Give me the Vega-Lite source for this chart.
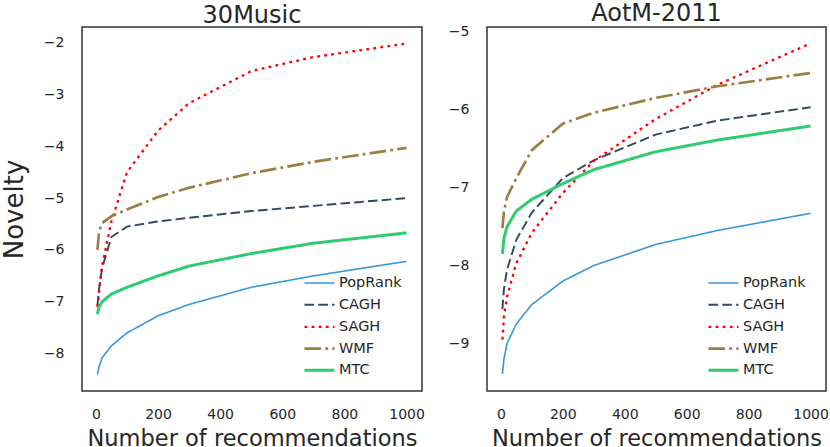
{
  "$schema": "https://vega.github.io/schema/vega-lite/v6.json",
  "description": "Novelty vs number of recommendations, 30Music and AotM-2011.",
  "background": "white",
  "padding": {"left": 0, "top": 0, "right": 0, "bottom": 0},
  "datasets": {
    "music": [
      {"method": "PopRank", "n": 5, "novelty": -8.40}, {"method": "PopRank", "n": 10, "novelty": -8.25},
      {"method": "PopRank", "n": 20, "novelty": -8.08}, {"method": "PopRank", "n": 50, "novelty": -7.85},
      {"method": "PopRank", "n": 100, "novelty": -7.60}, {"method": "PopRank", "n": 200, "novelty": -7.27},
      {"method": "PopRank", "n": 300, "novelty": -7.05}, {"method": "PopRank", "n": 500, "novelty": -6.72},
      {"method": "PopRank", "n": 700, "novelty": -6.50}, {"method": "PopRank", "n": 1000, "novelty": -6.22},
      {"method": "CAGH", "n": 5, "novelty": -7.07}, {"method": "CAGH", "n": 10, "novelty": -6.75},
      {"method": "CAGH", "n": 20, "novelty": -6.35}, {"method": "CAGH", "n": 50, "novelty": -5.75},
      {"method": "CAGH", "n": 100, "novelty": -5.55}, {"method": "CAGH", "n": 200, "novelty": -5.45},
      {"method": "CAGH", "n": 300, "novelty": -5.38}, {"method": "CAGH", "n": 500, "novelty": -5.25},
      {"method": "CAGH", "n": 700, "novelty": -5.15}, {"method": "CAGH", "n": 1000, "novelty": -5.00},
      {"method": "SAGH", "n": 5, "novelty": -7.10}, {"method": "SAGH", "n": 10, "novelty": -6.80},
      {"method": "SAGH", "n": 20, "novelty": -6.30}, {"method": "SAGH", "n": 50, "novelty": -5.45},
      {"method": "SAGH", "n": 100, "novelty": -4.50}, {"method": "SAGH", "n": 200, "novelty": -3.70},
      {"method": "SAGH", "n": 300, "novelty": -3.17}, {"method": "SAGH", "n": 500, "novelty": -2.55},
      {"method": "SAGH", "n": 700, "novelty": -2.28}, {"method": "SAGH", "n": 1000, "novelty": -2.02},
      {"method": "WMF", "n": 5, "novelty": -6.00}, {"method": "WMF", "n": 10, "novelty": -5.65},
      {"method": "WMF", "n": 20, "novelty": -5.48}, {"method": "WMF", "n": 50, "novelty": -5.35},
      {"method": "WMF", "n": 100, "novelty": -5.22}, {"method": "WMF", "n": 200, "novelty": -4.98},
      {"method": "WMF", "n": 300, "novelty": -4.80}, {"method": "WMF", "n": 500, "novelty": -4.52},
      {"method": "WMF", "n": 700, "novelty": -4.30}, {"method": "WMF", "n": 1000, "novelty": -4.03},
      {"method": "MTC", "n": 5, "novelty": -7.24}, {"method": "MTC", "n": 10, "novelty": -7.10},
      {"method": "MTC", "n": 20, "novelty": -7.00}, {"method": "MTC", "n": 50, "novelty": -6.85},
      {"method": "MTC", "n": 100, "novelty": -6.72}, {"method": "MTC", "n": 200, "novelty": -6.50},
      {"method": "MTC", "n": 300, "novelty": -6.31}, {"method": "MTC", "n": 500, "novelty": -6.07},
      {"method": "MTC", "n": 700, "novelty": -5.87}, {"method": "MTC", "n": 1000, "novelty": -5.67}
    ],
    "aotm": [
      {"method": "PopRank", "n": 5, "novelty": -9.39}, {"method": "PopRank", "n": 10, "novelty": -9.20},
      {"method": "PopRank", "n": 20, "novelty": -9.00}, {"method": "PopRank", "n": 50, "novelty": -8.75},
      {"method": "PopRank", "n": 100, "novelty": -8.50}, {"method": "PopRank", "n": 200, "novelty": -8.20},
      {"method": "PopRank", "n": 300, "novelty": -8.00}, {"method": "PopRank", "n": 500, "novelty": -7.73},
      {"method": "PopRank", "n": 700, "novelty": -7.55}, {"method": "PopRank", "n": 1000, "novelty": -7.33},
      {"method": "CAGH", "n": 5, "novelty": -8.56}, {"method": "CAGH", "n": 10, "novelty": -8.30},
      {"method": "CAGH", "n": 20, "novelty": -8.05}, {"method": "CAGH", "n": 50, "novelty": -7.67},
      {"method": "CAGH", "n": 100, "novelty": -7.32}, {"method": "CAGH", "n": 200, "novelty": -6.88},
      {"method": "CAGH", "n": 300, "novelty": -6.65}, {"method": "CAGH", "n": 500, "novelty": -6.32},
      {"method": "CAGH", "n": 700, "novelty": -6.14}, {"method": "CAGH", "n": 1000, "novelty": -5.97},
      {"method": "SAGH", "n": 5, "novelty": -8.95}, {"method": "SAGH", "n": 10, "novelty": -8.65},
      {"method": "SAGH", "n": 20, "novelty": -8.40}, {"method": "SAGH", "n": 50, "novelty": -7.97},
      {"method": "SAGH", "n": 100, "novelty": -7.58}, {"method": "SAGH", "n": 200, "novelty": -7.07},
      {"method": "SAGH", "n": 300, "novelty": -6.66}, {"method": "SAGH", "n": 500, "novelty": -6.12},
      {"method": "SAGH", "n": 700, "novelty": -5.68}, {"method": "SAGH", "n": 1000, "novelty": -5.15},
      {"method": "WMF", "n": 5, "novelty": -7.52}, {"method": "WMF", "n": 10, "novelty": -7.30},
      {"method": "WMF", "n": 20, "novelty": -7.12}, {"method": "WMF", "n": 50, "novelty": -6.88},
      {"method": "WMF", "n": 100, "novelty": -6.52}, {"method": "WMF", "n": 200, "novelty": -6.18},
      {"method": "WMF", "n": 300, "novelty": -6.04}, {"method": "WMF", "n": 500, "novelty": -5.85},
      {"method": "WMF", "n": 700, "novelty": -5.70}, {"method": "WMF", "n": 1000, "novelty": -5.53},
      {"method": "MTC", "n": 5, "novelty": -7.85}, {"method": "MTC", "n": 10, "novelty": -7.65},
      {"method": "MTC", "n": 20, "novelty": -7.50}, {"method": "MTC", "n": 50, "novelty": -7.30},
      {"method": "MTC", "n": 100, "novelty": -7.15}, {"method": "MTC", "n": 200, "novelty": -6.95},
      {"method": "MTC", "n": 300, "novelty": -6.77}, {"method": "MTC", "n": 500, "novelty": -6.54},
      {"method": "MTC", "n": 700, "novelty": -6.39}, {"method": "MTC", "n": 1000, "novelty": -6.21}
    ]
  },
  "hconcat": [
    {
      "title": "30Music",
      "data": {"name": "music"},
      "width": 340,
      "height": 364,
      "mark": {"type": "line", "strokeCap": "butt"},
      "encoding": {
        "x": {"field": "n", "type": "quantitative",
              "scale": {"domain": [-44.75, 1049.75], "nice": false, "zero": false},
              "axis": {"values": [0, 200, 400, 600, 800, 1000], "format": "d", "title": "Number of recommendations"}},
        "y": {"field": "novelty", "type": "quantitative",
              "scale": {"domain": [-8.72, -1.70], "nice": false, "zero": false},
              "axis": {"values": [-8, -7, -6, -5, -4, -3, -2], "format": "d", "title": "Novelty", "titleFontSize": 26, "titlePadding": 16}},
        "color": {"field": "method", "type": "nominal",
                  "scale": {"domain": ["PopRank", "CAGH", "SAGH", "WMF", "MTC"], "range": ["#3498db", "#34495e", "#ff0000", "#9b7e41", "#2ecc71"]},
                  "legend": {"title": null, "orient": "none", "legendX": 226, "legendY": 245, "symbolType": "M-1.5,0H1.5", "symbolSize": 400, "labelFontSize": 14.5, "labelFont": "DejaVu Sans", "labelColor": "#262626", "labelOffset": 8, "rowPadding": 3.7, "padding": 0}},
        "strokeDash": {"field": "method", "type": "nominal",
                  "scale": {"domain": ["PopRank", "CAGH", "SAGH", "WMF", "MTC"], "range": [[1, 0], [9.6, 4.2], [2.8, 4.3], [16.6, 4.2, 2.8, 4.2], [1, 0]]},
                  "legend": {"title": null, "orient": "none", "legendX": 226, "legendY": 245, "symbolType": "M-1.5,0H1.5", "symbolSize": 400, "labelFontSize": 14.5, "labelFont": "DejaVu Sans", "labelColor": "#262626", "labelOffset": 8, "rowPadding": 3.7, "padding": 0}},
        "strokeWidth": {"field": "method", "type": "ordinal",
                  "scale": {"domain": ["PopRank", "CAGH", "SAGH", "WMF", "MTC"], "range": [1.6, 3, 3, 3, 5]},
                  "legend": {"title": null, "orient": "none", "legendX": 226, "legendY": 245, "symbolType": "M-1.5,0H1.5", "symbolSize": 400, "labelFontSize": 14.5, "labelFont": "DejaVu Sans", "labelColor": "#262626", "labelOffset": 8, "rowPadding": 3.7, "padding": 0}}
      }
    },
    {
      "title": "AotM-2011",
      "data": {"name": "aotm"},
      "width": 339,
      "height": 364,
      "mark": {"type": "line", "strokeCap": "butt"},
      "encoding": {
        "x": {"field": "n", "type": "quantitative",
              "scale": {"domain": [-44.75, 1049.75], "nice": false, "zero": false},
              "axis": {"values": [0, 200, 400, 600, 800, 1000], "format": "d", "title": "Number of recommendations"}},
        "y": {"field": "novelty", "type": "quantitative",
              "scale": {"domain": [-9.61, -4.94], "nice": false, "zero": false},
              "axis": {"values": [-9, -8, -7, -6, -5], "format": "d", "title": null}},
        "color": {"field": "method", "type": "nominal",
                  "scale": {"domain": ["PopRank", "CAGH", "SAGH", "WMF", "MTC"], "range": ["#3498db", "#34495e", "#ff0000", "#9b7e41", "#2ecc71"]},
                  "legend": {"title": null, "orient": "none", "legendX": 225, "legendY": 245, "symbolType": "M-1.5,0H1.5", "symbolSize": 400, "labelFontSize": 14.5, "labelFont": "DejaVu Sans", "labelColor": "#262626", "labelOffset": 8, "rowPadding": 3.7, "padding": 0}},
        "strokeDash": {"field": "method", "type": "nominal",
                  "scale": {"domain": ["PopRank", "CAGH", "SAGH", "WMF", "MTC"], "range": [[1, 0], [9.6, 4.2], [2.8, 4.3], [16.6, 4.2, 2.8, 4.2], [1, 0]]},
                  "legend": {"title": null, "orient": "none", "legendX": 225, "legendY": 245, "symbolType": "M-1.5,0H1.5", "symbolSize": 400, "labelFontSize": 14.5, "labelFont": "DejaVu Sans", "labelColor": "#262626", "labelOffset": 8, "rowPadding": 3.7, "padding": 0}},
        "strokeWidth": {"field": "method", "type": "ordinal",
                  "scale": {"domain": ["PopRank", "CAGH", "SAGH", "WMF", "MTC"], "range": [1.6, 3, 3, 3, 5]},
                  "legend": {"title": null, "orient": "none", "legendX": 225, "legendY": 245, "symbolType": "M-1.5,0H1.5", "symbolSize": 400, "labelFontSize": 14.5, "labelFont": "DejaVu Sans", "labelColor": "#262626", "labelOffset": 8, "rowPadding": 3.7, "padding": 0}}
      }
    }
  ],
  "spacing": 21,
  "resolve": {
    "scale": {"y": "independent", "color": "independent", "strokeDash": "independent", "strokeWidth": "independent"},
    "legend": {"color": "independent", "strokeDash": "independent", "strokeWidth": "independent"}
  },
  "config": {
    "font": "DejaVu Sans",
    "view": {"stroke": "#333333", "strokeWidth": 1.5},
    "axis": {
      "domain": false, "grid": false, "ticks": false,
      "labelFont": "DejaVu Sans", "labelFontSize": 14, "labelColor": "#262626", "labelPadding": 18,
      "titleFont": "DejaVu Sans", "titleFontSize": 22.5, "titleFontWeight": "normal", "titleColor": "#262626", "titlePadding": 6
    },
    "axisX": {"labelPadding": 16},
    "title": {"font": "DejaVu Sans", "fontSize": 24, "fontWeight": "normal", "color": "#262626", "offset": -1}
  }
}
